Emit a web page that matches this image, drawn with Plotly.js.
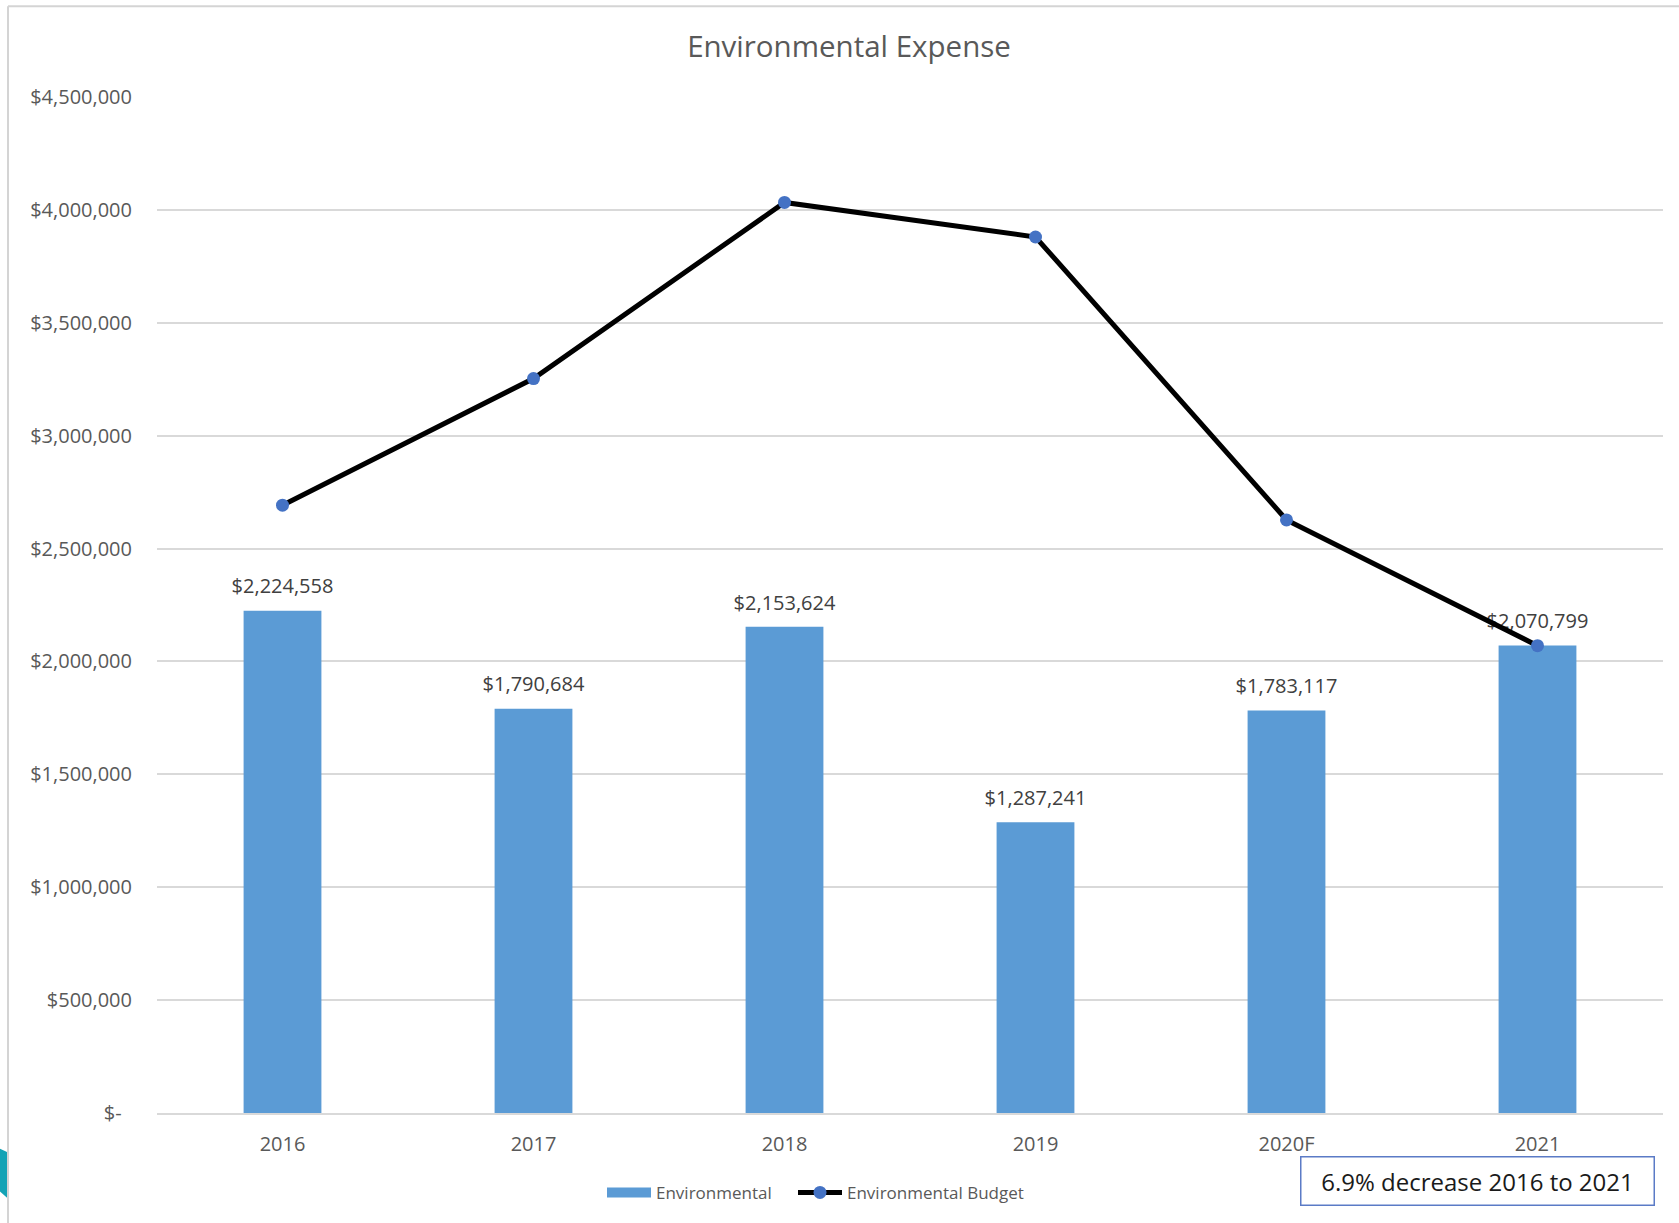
<!DOCTYPE html>
<html>
<head>
<meta charset="utf-8">
<script src="https://cdn.plot.ly/plotly-3.0.1.min.js"></script>
<style>
  html, body { margin: 0; padding: 0; background: #ffffff; }
  #chart { width: 1679px; height: 1223px; }
</style>
</head>
<body>
<div id="chart"></div>
<script>
// Fiscal years shown on the category axis
const years = ['2016', '2017', '2018', '2019', '2020F', '2021'];

// Actual environmental expense per year (bars, labelled)
const environmental = [2224558, 1790684, 2153624, 1287241, 1783117, 2070799];

// Budgeted environmental expense per year (line)
const environmentalBudget = [2692000, 3253000, 4033000, 3880000, 2627000, 2070000];

// Value-axis ticks
const yTickValues = [0, 500000, 1000000, 1500000, 2000000, 2500000, 3000000, 3500000, 4000000, 4500000];

const summaryNote = '6.9% decrease 2016 to 2021';

const FONT = '"Open Sans", "Noto Sans", sans-serif';
const BAR_BLUE = '#5b9bd5';
const W = 1679, H = 1223;
const M = { l: 157, r: 16, t: 97, b: 108 };
const plotW = W - M.l - M.r;
const plotH = H - M.t - M.b;

// pixel -> paper coordinate helpers for decorations around the plot
const px = x => (x - M.l) / plotW;
const py = y => (H - M.b - y) / plotH;

const money = v => '$' + v.toLocaleString('en-US');
const axisMoney = v => v === 0 ? '$-\u00a0\u00a0' : money(v);

const barTrace = {
  type: 'bar',
  name: 'Environmental',
  x: years,
  y: environmental,
  marker: { color: BAR_BLUE, line: { width: 0 } },
  showlegend: false,
  hoverinfo: 'x+y'
};

// value labels sitting above each bar (drawn beneath the budget line)
const barLabels = {
  type: 'scatter',
  mode: 'markers+text',
  x: years,
  y: environmental,
  text: environmental.map(money),
  textposition: 'top center',
  textfont: { family: FONT, size: 20, color: '#404040' },
  marker: { size: 18, color: 'rgba(0,0,0,0)', line: { width: 0 } },
  showlegend: false,
  hoverinfo: 'skip',
  cliponaxis: false
};

// legend entry for the bars, drawn as a wide flat swatch
const barLegend = {
  type: 'scatter',
  mode: 'lines',
  name: 'Environmental',
  x: [years[0]],
  y: [null],
  line: { color: BAR_BLUE, width: 12 },
  hoverinfo: 'skip',
  legend: 'legend'
};

const lineTrace = {
  type: 'scatter',
  mode: 'lines+markers',
  name: 'Environmental Budget',
  x: years,
  y: environmentalBudget,
  line: { color: '#000000', width: 5 },
  marker: { color: '#4472c4', size: 13, line: { width: 0 } },
  cliponaxis: false,
  legend: 'legend2'
};

const legendBase = {
  orientation: 'h',
  y: py(1195),
  xanchor: 'left', yanchor: 'middle',
  font: { family: FONT, size: 17, color: '#595959' },
  itemwidth: 44,
  bgcolor: 'rgba(0,0,0,0)',
  itemclick: false
};

const layout = {
  width: W,
  height: H,
  margin: M,
  paper_bgcolor: '#ffffff',
  plot_bgcolor: '#ffffff',
  font: { family: FONT, color: '#595959', size: 18 },
  title: {
    text: 'Environmental Expense',
    font: { family: FONT, size: 29.5, color: '#595959' },
    xref: 'container', yref: 'container',
    x: 849 / W, y: 1 - 47 / H,
    xanchor: 'center', yanchor: 'middle'
  },
  bargap: 0.69,
  xaxis: {
    type: 'category',
    showgrid: false,
    showline: true,
    linecolor: '#d9d9d9',
    linewidth: 2,
    ticks: '',
    tickfont: { family: FONT, size: 20, color: '#595959' },
    ticklabelstandoff: 12,
    zeroline: false
  },
  yaxis: {
    range: [0, 4500000],
    tickvals: yTickValues,
    ticktext: yTickValues.map(axisMoney),
    showgrid: true,
    gridcolor: '#d9d9d9',
    gridwidth: 2,
    zeroline: false,
    showline: false,
    ticks: '',
    tickfont: { family: FONT, size: 20, color: '#595959' },
    ticklabelstandoff: 24
  },
  showlegend: true,
  legend: Object.assign({}, legendBase, { x: px(602) }),
  legend2: Object.assign({}, legendBase, { x: px(793) }),
  annotations: [{
    text: summaryNote,
    xref: 'paper', yref: 'paper',
    x: px(1477.5), y: py(1183),
    xanchor: 'center', yanchor: 'middle',
    showarrow: false,
    width: 352, height: 47,
    align: 'center', valign: 'middle',
    bordercolor: '#5b7bc6', borderwidth: 1.5, borderpad: 0,
    bgcolor: '#ffffff',
    font: { family: FONT, size: 24, color: '#1a1a1a' }
  }],
  shapes: [
    // outer chart frame (top and left edges)
    { type: 'line', xref: 'paper', yref: 'paper', x0: px(8), x1: px(W + 5), y0: py(6), y1: py(6),
      line: { color: '#d4d4d4', width: 2 } },
    { type: 'line', xref: 'paper', yref: 'paper', x0: px(8), x1: px(8), y0: py(6), y1: py(H + 5),
      line: { color: '#d4d4d4', width: 2 } },
    // teal slide accent at the lower-left edge
    { type: 'path', xref: 'paper', yref: 'paper',
      path: `M ${px(-2)} ${py(1150)} L ${px(7)} ${py(1154)} L ${px(7)} ${py(1200)} L ${px(-2)} ${py(1192)} Z`,
      fillcolor: '#14a3b5', line: { width: 0 }, layer: 'above' }
  ]
};

Plotly.newPlot('chart', [barTrace, barLabels, barLegend, lineTrace], layout,
  { displayModeBar: false, responsive: false });
</script>
</body>
</html>
